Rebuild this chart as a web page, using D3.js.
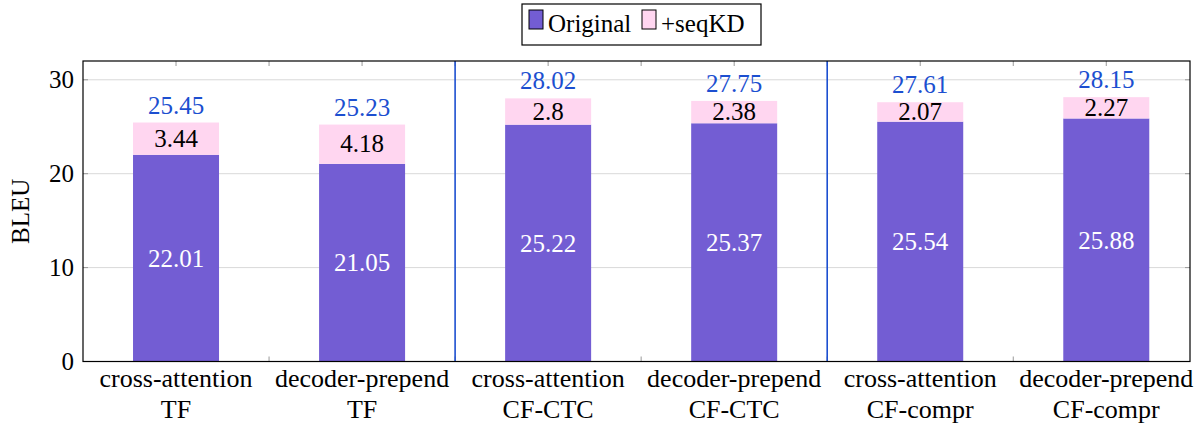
<!DOCTYPE html>
<html lang="en">
<head>
<meta charset="UTF-8" />
<title>BLEU seqKD</title>
<script src="https://d3js.org/d3.v7.min.js"></script>
<style>
  body { margin: 0; background: #fff; }
</style>
</head>
<body>
<svg id="chart" width="1201" height="426" font-family="'Liberation Serif', 'Times New Roman', serif"></svg>
<script>
// data
const methods = ["cross-attention", "decoder-prepend", "cross-attention", "decoder-prepend", "cross-attention", "decoder-prepend"];
const models = ["TF", "TF", "CF-CTC", "CF-CTC", "CF-compr", "CF-compr"];
const original = [22.01, 21.05, 25.22, 25.37, 25.54, 25.88];
const seqKD = [3.44, 4.18, 2.8, 2.38, 2.07, 2.27];
const totals = [25.45, 25.23, 28.02, 27.75, 27.61, 28.15];
const yTicks = [0, 10, 20, 30];
const seriesNames = ["Original", "+seqKD"];

const purple = "#735dd3", pink = "#ffd6f0", blue = "#1c4fd0";
const serif = "'Liberation Serif', 'Times New Roman', serif";

const svg = d3.select("#chart");
const pLeft = 83, pRight = 1190, pTop = 61, pBottom = 361.5;

var x = d3.scaleLinear().domain([0.5, 6.45]).range([pLeft, pRight]);
var y = d3.scaleLinear().domain([0, 32]).range([pBottom, pTop]);
const barW = 86;

// grid
svg.append("g").selectAll("line").data(yTicks).enter().append("line")
  .attr("x1", pLeft).attr("x2", pRight)
  .attr("y1", d => y(d)).attr("y2", d => y(d))
  .attr("stroke", "#d9d9d9").attr("stroke-width", 1);

// x ticks (every half unit, inward, top and bottom)
const xt = d3.range(1, 6.5, 0.5);
const tg = svg.append("g").attr("stroke", "#999").attr("stroke-width", 1);
xt.forEach(v => {
  tg.append("line").attr("x1", x(v)).attr("x2", x(v)).attr("y1", pTop).attr("y2", pTop + 5);
  tg.append("line").attr("x1", x(v)).attr("x2", x(v)).attr("y1", pBottom).attr("y2", pBottom - 5);
});
yTicks.forEach(v => {
  tg.append("line").attr("x1", pLeft).attr("x2", pLeft + 5).attr("y1", y(v)).attr("y2", y(v));
  tg.append("line").attr("x1", pRight).attr("x2", pRight - 5).attr("y1", y(v)).attr("y2", y(v));
});

// bars
const idx = d3.range(original.length);
svg.append("g").selectAll("rect.orig").data(idx).enter().append("rect")
  .attr("x", i => x(i + 1) - barW / 2).attr("width", barW)
  .attr("y", i => y(original[i])).attr("height", i => y(0) - y(original[i]))
  .attr("fill", purple);
svg.append("g").selectAll("rect.kd").data(idx).enter().append("rect")
  .attr("x", i => x(i + 1) - barW / 2).attr("width", barW)
  .attr("y", i => y(original[i] + seqKD[i])).attr("height", i => y(original[i]) - y(original[i] + seqKD[i]))
  .attr("fill", pink);

// group separators
[2.5, 4.5].forEach(v => {
  svg.append("line").attr("x1", x(v)).attr("x2", x(v)).attr("y1", pTop).attr("y2", pBottom)
    .attr("stroke", blue).attr("stroke-width", 1.6);
});

// value labels
const lab = svg.append("g").attr("text-anchor", "middle").attr("font-family", serif).attr("font-size", 25);
idx.forEach(i => {
  lab.append("text").attr("x", x(i + 1)).attr("y", y(original[i] / 2)).attr("dy", "0.35em")
    .attr("fill", "#fff").text(original[i].toFixed(2));
  lab.append("text").attr("x", x(i + 1)).attr("y", y(original[i] + seqKD[i] / 2)).attr("dy", "0.33em")
    .attr("fill", "#000").text(seqKD[i]);
  lab.append("text").attr("x", x(i + 1)).attr("y", y(totals[i]) - 9)
    .attr("fill", blue).text(totals[i].toFixed(2));
});

// frame
svg.append("rect").attr("x", pLeft).attr("y", pTop).attr("width", pRight - pLeft).attr("height", pBottom - pTop)
  .attr("fill", "none").attr("stroke", "#000").attr("stroke-width", 1.2);

// y tick labels
svg.append("g").attr("text-anchor", "end").attr("font-family", serif).attr("font-size", 25)
  .selectAll("text").data(yTicks).enter().append("text")
  .attr("x", pLeft - 9).attr("y", d => y(d)).attr("dy", "0.33em").text(d => d);

// x tick labels
const xl = svg.append("g").attr("text-anchor", "middle").attr("font-family", serif).attr("font-size", 26);
idx.forEach(i => {
  xl.append("text").attr("x", x(i + 1)).attr("y", 387).text(methods[i]);
  xl.append("text").attr("x", x(i + 1)).attr("y", 418).text(models[i]);
});

// y axis title
svg.append("text").attr("transform", "translate(29," + (pTop + pBottom) / 2 + ") rotate(-90)")
  .attr("text-anchor", "middle").attr("font-family", serif).attr("font-size", 25).text("BLEU");

// legend
const lg = svg.append("g");
lg.append("rect").attr("x", 522).attr("y", 4).attr("width", 239).attr("height", 41)
  .attr("fill", "#fff").attr("stroke", "#000").attr("stroke-width", 1.2);
const lx = [529, 642];
seriesNames.forEach((n, k) => {
  lg.append("rect").attr("x", lx[k]).attr("y", 10).attr("width", 14).attr("height", 19)
    .attr("fill", k == 0 ? purple : pink).attr("stroke", "#000").attr("stroke-width", 1);
  lg.append("text").attr("x", lx[k] + 19).attr("y", 32).attr("font-family", serif).attr("font-size", 25).text(n);
});
</script>
</body>
</html>
